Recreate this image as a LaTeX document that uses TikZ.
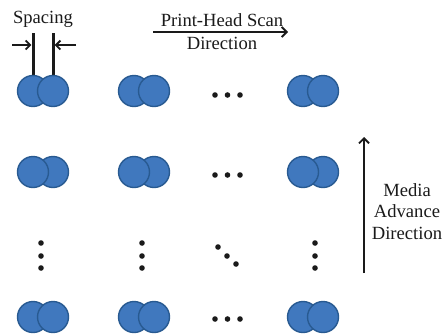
\documentclass[tikz,border=0pt]{standalone}
\usepackage{fontspec}
\setmainfont{Liberation Serif}
\usetikzlibrary{arrows.meta}
\definecolor{dropfill}{RGB}{64,120,190}
\definecolor{dropedge}{RGB}{40,90,145}
\definecolor{ink}{RGB}{26,26,26}
\begin{document}
\begin{tikzpicture}[x=1pt,y=-1pt,
  drop/.style={circle,draw=dropedge,fill=dropfill,line width=1.4pt,minimum size=31pt,inner sep=0pt},
  dotmark/.style={circle,fill=ink,inner sep=0pt,minimum size=5.6pt},
  lbl/.style={font=\fontsize{18.6}{21.5}\selectfont,text=ink,inner sep=0pt,anchor=base},
  flow/.style={draw=ink,line width=1.7pt,-{Straight Barb[length=5pt,width=10pt,line width=1.8pt]}},
  gap/.style={draw=ink,line width=1.6pt,-{Straight Barb[length=4.5pt,width=9pt,line width=1.8pt]}},
  gapline/.style={draw=ink,line width=3pt},
]
\useasboundingbox (0,0) rectangle (443,333);

% spacing marks between the two drops of the first pair
\coordinate (ltop) at (33,33);  \coordinate (lbot) at (33,80);
\coordinate (rtop) at (53,33);  \coordinate (rbot) at (53,80);
\draw[gapline] (ltop) -- (lbot);
\draw[gapline] (rtop) -- (rbot);
\coordinate (lin) at (12,45);  \coordinate (lhit) at (31.3,45);
\coordinate (rin) at (76,45);  \coordinate (rhit) at (54.7,45);
\draw[gap] (lin) -- (lhit);
\draw[gap] (rin) -- (rhit);
\node[lbl] (spacing) at (43,23) {Spacing};

% scan direction
\coordinate (scanA) at (153,32);
\coordinate (scanB) at (288,32);
\draw[flow] (scanA) -- (scanB);
\node[lbl] (scan1) at (222,26) {Print-Head Scan};
\node[lbl] (scan2) at (222,49) {Direction};

% media advance direction
\coordinate (feedA) at (364,273);
\coordinate (feedB) at (364,137);
\draw[flow] (feedA) -- (feedB);
\node[lbl] (media1) at (407,196) {Media};
\node[lbl] (media2) at (407,217) {Advance};
\node[lbl] (media3) at (407,239) {Direction};

% row 1 (right drop on top)
\node[drop] (a1) at (33,91) {};  \node[drop] (b1) at (53,91) {};
\node[drop] (c1) at (134,91) {}; \node[drop] (d1) at (154,91) {};
\node[drop] (e1) at (303,91) {}; \node[drop] (f1) at (323,91) {};

% row 2 (left drop on top)
\node[drop] (b2) at (53,172) {};  \node[drop] (a2) at (33,172) {};
\node[drop] (d2) at (154,172) {}; \node[drop] (c2) at (134,172) {};
\node[drop] (f2) at (323,172) {}; \node[drop] (e2) at (303,172) {};

% last row (right drop on top)
\node[drop] (a4) at (33,317) {};  \node[drop] (b4) at (53,317) {};
\node[drop] (c4) at (134,317) {}; \node[drop] (d4) at (154,317) {};
\node[drop] (e4) at (303,317) {}; \node[drop] (f4) at (323,317) {};

% horizontal ellipses
\foreach \yy/\r in {95/1,175/2,319/4}{
  \node[dotmark] (h\r a) at (215,\yy) {};
  \node[dotmark] (h\r b) at (227.5,\yy) {};
  \node[dotmark] (h\r c) at (240,\yy) {};
}
% vertical ellipses
\foreach \xx/\c in {41/a,142/b,315/c}{
  \node[dotmark] (v\c1) at (\xx,243) {};
  \node[dotmark] (v\c2) at (\xx,256) {};
  \node[dotmark] (v\c3) at (\xx,268) {};
}
% diagonal ellipsis
\node[dotmark] (g1) at (218,247) {};
\node[dotmark] (g2) at (227,256) {};
\node[dotmark] (g3) at (236,264) {};
\end{tikzpicture}
\end{document}
